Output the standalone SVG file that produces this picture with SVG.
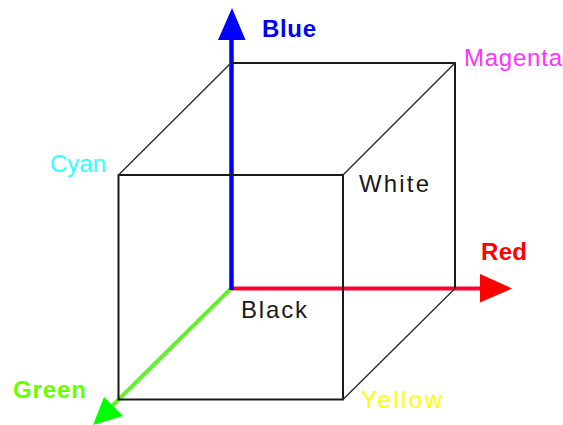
<svg xmlns="http://www.w3.org/2000/svg" width="563" height="425" viewBox="0 0 563 425">
<style>
.e{fill:none;stroke:#1a1a1a;stroke-width:2}
.d{fill:none;stroke:#333;stroke-width:1.500}
.t{font-family:"Liberation Sans",Arial,sans-serif;font-size:24px}
.b{font-family:"Liberation Sans",Arial,sans-serif;font-size:24px;font-weight:bold}
</style>
<rect width="563" height="425" fill="#fff"/>
<g id="connectors">
<path d="M231.500 288L110 408" fill="none" stroke="#66ee33" stroke-width="4"/>
<polygon points="93,425 104,397 123,416" fill="#00ff00"/>
<path d="M231.500 288.500H485" fill="none" stroke="#ff0033" stroke-width="4"/>
<polygon points="512,288.500 480,274 480,302.500" fill="#ff0000"/>
<path d="M231.500 290V36" fill="none" stroke="#0000ff" stroke-width="4.500"/>
<polygon points="232,8 218,40 245.500,40" fill="#0000ff"/>
<path class="e" d="M118.500 175H343V399.500H118.500ZM231 63H455V288.500"/>
<path class="d" d="M118.500 175L231 63M343 175L455 63M343 399.500L455 288.500"/>
</g>
<g id="blue"><text class="b" x="262" y="37" fill="#0000ff" textLength="54" lengthAdjust="spacing">Blue</text></g>
<g id="magenta"><text class="t" x="464" y="65.500" fill="#ff33ff" textLength="98" lengthAdjust="spacing">Magenta</text></g>
<g id="cyan"><text class="t" x="50" y="172" fill="#33ffff" textLength="56" lengthAdjust="spacing">Cyan</text></g>
<g id="white"><text class="t" x="359" y="192" fill="#1a1a1a" textLength="70" lengthAdjust="spacing">White</text></g>
<g id="red"><text class="b" x="481" y="260" fill="#ff0000" textLength="46" lengthAdjust="spacing">Red</text></g>
<g id="black"><text class="t" x="241" y="318" fill="#1a1a1a" textLength="66" lengthAdjust="spacing">Black</text></g>
<g id="green"><text class="b" x="13" y="398" fill="#66ff00" textLength="73" lengthAdjust="spacing">Green</text></g>
<g id="yellow"><text class="t" x="361" y="408" fill="#ffff00" textLength="81" lengthAdjust="spacing">Yellow</text></g>
</svg>
